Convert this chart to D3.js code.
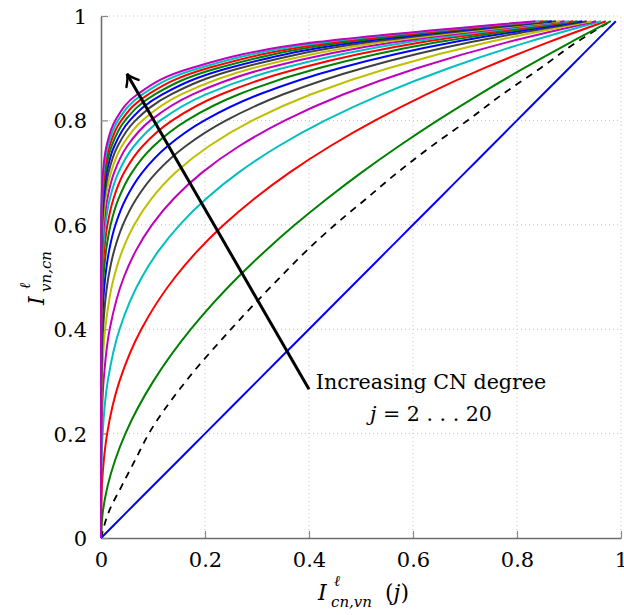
<!DOCTYPE html>
<html><head><meta charset="utf-8">
<script src="https://cdn.jsdelivr.net/npm/d3@7/dist/d3.min.js"></script>
<style>
body{margin:0;background:#fff}
svg text{font-family:"DejaVu Serif",serif;fill:#000}
</style>
</head><body>
<svg id="chart" width="624" height="615"></svg>
<script>
// ---- data ----
const yLevels = [0, 0.05, 0.1, 0.15, 0.2, 0.3, 0.4, 0.5, 0.55, 0.6, 0.65, 0.7, 0.75, 0.8, 0.85, 0.9, 0.95, 0.99];
const xTickValues = [0, 0.2, 0.4, 0.6, 0.8, 1];
const yTickValues = [0, 0.2, 0.4, 0.6, 0.8, 1];
const tickLabels = ["0", "0.2", "0.4", "0.6", "0.8", "1"];
const degrees = [2,3,4,5,6,7,8,9,10,11,12,13,14,15,16,17,18,19,20];

const xJ2  = [0, 0.05, 0.1, 0.15, 0.2, 0.3, 0.4, 0.5, 0.55, 0.6, 0.65, 0.7, 0.75, 0.8, 0.85, 0.9, 0.95, 0.99];
const xJ3  = [0, 0.0035, 0.0128, 0.0274, 0.0469, 0.1005, 0.1728, 0.2636, 0.3160, 0.3729, 0.4346, 0.5007, 0.5717, 0.6474, 0.7279, 0.8134, 0.9039, 0.9803];
const xJ4  = [0, 0.0003, 0.0018, 0.0055, 0.0118, 0.0354, 0.0775, 0.1428, 0.1856, 0.2361, 0.2948, 0.3623, 0.4396, 0.5272, 0.6259, 0.7367, 0.8608, 0.9708];
const xJ5  = [0, 0, 0.0003, 0.0011, 0.0031, 0.0129, 0.0357, 0.0788, 0.1107, 0.1514, 0.2021, 0.2644, 0.3401, 0.4312, 0.5398, 0.6684, 0.8203, 0.9615];
const xJ6  = [0, 0, 0, 0.0003, 0.0009, 0.0049, 0.0167, 0.0441, 0.0669, 0.0980, 0.1397, 0.1942, 0.2645, 0.3540, 0.4667, 0.6073, 0.7821, 0.9523];
const xJ7  = [0, 0, 0, 0, 0.0002, 0.0019, 0.0080, 0.0250, 0.0408, 0.0640, 0.0972, 0.1433, 0.2065, 0.2915, 0.4043, 0.5524, 0.7460, 0.9432];
const xJ8  = [0, 0, 0, 0, 0.0001, 0.0007, 0.0039, 0.0143, 0.0251, 0.0421, 0.0680, 0.1063, 0.1618, 0.2407, 0.3508, 0.5030, 0.7118, 0.9343];
const xJ9  = [0, 0, 0, 0, 0, 0.0003, 0.0019, 0.0082, 0.0155, 0.0278, 0.0478, 0.0792, 0.1272, 0.1991, 0.3049, 0.4583, 0.6795, 0.9254];
const xJ10 = [0, 0, 0, 0, 0, 0.0001, 0.0009, 0.0048, 0.0097, 0.0185, 0.0338, 0.0592, 0.1003, 0.1651, 0.2654, 0.4180, 0.6488, 0.9167];
const xJ11 = [0, 0, 0, 0, 0, 0, 0.0005, 0.0028, 0.0061, 0.0124, 0.0240, 0.0444, 0.0793, 0.1372, 0.2313, 0.3817, 0.6197, 0.9082];
const xJ12 = [0, 0, 0, 0, 0, 0, 0.0002, 0.0016, 0.0038, 0.0083, 0.0170, 0.0334, 0.0628, 0.1142, 0.2018, 0.3486, 0.5921, 0.8997];
const xJ13 = [0, 0, 0, 0, 0, 0, 0.0001, 0.0010, 0.0024, 0.0056, 0.0122, 0.0252, 0.0498, 0.0952, 0.1763, 0.3186, 0.5658, 0.8913];
const xJ14 = [0, 0, 0, 0, 0, 0, 0.0001, 0.0006, 0.0015, 0.0038, 0.0087, 0.0190, 0.0396, 0.0794, 0.1542, 0.2914, 0.5409, 0.8830];
const xJ15 = [0, 0, 0, 0, 0, 0, 0, 0.0003, 0.0010, 0.0026, 0.0063, 0.0144, 0.0316, 0.0664, 0.1349, 0.2666, 0.5171, 0.8749];
const xJ16 = [0, 0, 0, 0, 0, 0, 0, 0.0002, 0.0006, 0.0017, 0.0045, 0.0109, 0.0252, 0.0555, 0.1182, 0.2441, 0.4945, 0.8668];
const xJ17 = [0, 0, 0, 0, 0, 0, 0, 0.0001, 0.0004, 0.0012, 0.0032, 0.0083, 0.0201, 0.0465, 0.1036, 0.2236, 0.4730, 0.8588];
const xJ18 = [0, 0, 0, 0, 0, 0, 0, 0.0001, 0.0003, 0.0008, 0.0023, 0.0063, 0.0161, 0.0390, 0.0909, 0.2049, 0.4526, 0.8509];
const xJ19 = [0, 0, 0, 0, 0, 0, 0, 0, 0.0002, 0.0006, 0.0017, 0.0048, 0.0129, 0.0328, 0.0798, 0.1879, 0.4330, 0.8431];
const xJ20 = [0, 0, 0, 0, 0, 0, 0, 0, 0.0001, 0.0004, 0.0012, 0.0037, 0.0104, 0.0275, 0.0701, 0.1723, 0.4144, 0.8354];
const xDashed = [0, 0.015, 0.04, 0.066, 0.092, 0.163, 0.25, 0.345, 0.395, 0.45, 0.51, 0.57, 0.635, 0.705, 0.772, 0.845, 0.915, 0.98];

const seriesX = [xJ2,xJ3,xJ4,xJ5,xJ6,xJ7,xJ8,xJ9,xJ10,xJ11,xJ12,xJ13,xJ14,xJ15,xJ16,xJ17,xJ18,xJ19,xJ20];
const palette = ["#0000ff","#008000","#ff0000","#00bfbf","#bf00bf","#bfbf00","#404040"];

const arrowFrom = [0.40, 0.285];
const arrowTo = [0.05, 0.889];
const annotLine1 = "Increasing CN degree";

// ---- layout ----
const FONT = "DejaVu Serif";
const svg = d3.select("#chart");
const x = d3.scaleLinear().domain([0, 1]).range([101, 621]);
const y = d3.scaleLinear().domain([0, 1]).range([538, 16]);

// grid
const grid = svg.append("g");
grid.selectAll("line.gx").data(xTickValues.filter(v => v > 0)).join("line")
  .attr("x1", d => x(d)).attr("x2", d => x(d)).attr("y1", y(0)).attr("y2", y(1))
  .attr("stroke", "#c4c4c4").attr("stroke-width", 1).attr("stroke-dasharray", "1,3");
grid.selectAll("line.gy").data(yTickValues.filter(v => v > 0)).join("line")
  .attr("y1", d => y(d)).attr("y2", d => y(d)).attr("x1", x(0)).attr("x2", x(1))
  .attr("stroke", "#c4c4c4").attr("stroke-width", 1).attr("stroke-dasharray", "1,3");

// axes
const xAxis = d3.axisBottom(x).tickValues(xTickValues).tickFormat((d, i) => tickLabels[i]).tickSizeInner(-7).tickSizeOuter(0).tickPadding(14);
const yAxis = d3.axisLeft(y).tickValues(yTickValues).tickFormat((d, i) => tickLabels[i]).tickSizeInner(-7).tickSizeOuter(0).tickPadding(14);
const gx = svg.append("g").attr("transform", `translate(0,${y(0)})`).call(xAxis);
const gy = svg.append("g").attr("transform", `translate(${x(0)},0)`).call(yAxis);
[gx, gy].forEach(g => {
  g.attr("font-family", FONT);
  g.select(".domain").attr("stroke", "#6e6e6e").attr("stroke-width", 1.6);
  g.selectAll(".tick line").attr("stroke", "#8a8a8a").attr("stroke-width", 1.2);
  g.selectAll(".tick text").attr("font-family", FONT).attr("font-size", 21).attr("fill", "#000");
});
gx.selectAll(".tick text").attr("dy", "0.71em");
gy.selectAll(".tick text").attr("dy", "0.36em");

// curves
const line = d3.line().x(d => x(d[0])).y(d => y(d[1])).curve(d3.curveMonotoneY);
const curves = svg.append("g").attr("fill", "none");
curves.append("path")
  .attr("d", line(xDashed.map((v, i) => [v, yLevels[i]])))
  .attr("stroke", "#000").attr("stroke-width", 1.8).attr("stroke-dasharray", "7,6");
seriesX.forEach((arr, k) => {
  curves.append("path")
    .attr("d", line(arr.map((v, i) => [v, yLevels[i]])))
    .attr("stroke", palette[k % palette.length]).attr("stroke-width", 2)
    .attr("stroke-linejoin", "round");
});

// arrow
const defs = svg.append("defs");
defs.append("marker").attr("id", "ah").attr("viewBox", "-13 -9 15 18")
  .attr("refX", 0).attr("refY", 0).attr("markerWidth", 15).attr("markerHeight", 18)
  .attr("markerUnits", "userSpaceOnUse").attr("orient", "auto")
  .append("path").attr("d", "M-11,-7 Q-4,-1 0,0 Q-4,1 -11,7")
  .attr("fill", "none").attr("stroke", "#000").attr("stroke-width", 2.4).attr("stroke-linecap", "round");
svg.append("line")
  .attr("x1", x(arrowFrom[0])).attr("y1", y(arrowFrom[1]))
  .attr("x2", x(arrowTo[0])).attr("y2", y(arrowTo[1]))
  .attr("stroke", "#000").attr("stroke-width", 3).attr("marker-end", "url(#ah)");

// annotation
svg.append("text").attr("x", 431).attr("y", 389).attr("text-anchor", "middle")
  .attr("font-family", FONT).attr("font-size", 20.6).text(annotLine1);
const t2 = svg.append("text").attr("x", 431).attr("y", 421).attr("text-anchor", "middle")
  .attr("font-family", FONT).attr("font-size", 20.6);
t2.append("tspan").attr("font-style", "italic").text("j");
t2.append("tspan").text(" = 2 . . . 20");

// x axis title
const xt = svg.append("g").attr("font-family", FONT);
xt.append("text").attr("x", 318).attr("y", 600).attr("font-size", 22).attr("font-style", "italic").text("I");
xt.append("text").attr("x", 334).attr("y", 586).attr("font-size", 15).attr("font-style", "italic").text("ℓ");
xt.append("text").attr("x", 331).attr("y", 607).attr("font-size", 15).attr("font-style", "italic").text("cn,vn");
const xp = xt.append("text").attr("x", 385).attr("y", 600).attr("font-size", 22);
xp.append("tspan").text("(");
xp.append("tspan").attr("font-style", "italic").text("j");
xp.append("tspan").text(")");

// y axis title (rotated)
const yt = svg.append("g").attr("font-family", FONT).attr("transform", "translate(44,305) rotate(-90)");
yt.append("text").attr("x", 0).attr("y", 0).attr("font-size", 22).attr("font-style", "italic").text("I");
yt.append("text").attr("x", 16).attr("y", -14).attr("font-size", 15).attr("font-style", "italic").text("ℓ");
yt.append("text").attr("x", 13).attr("y", 7).attr("font-size", 15).attr("font-style", "italic").text("vn,cn");
</script>
</body></html>
